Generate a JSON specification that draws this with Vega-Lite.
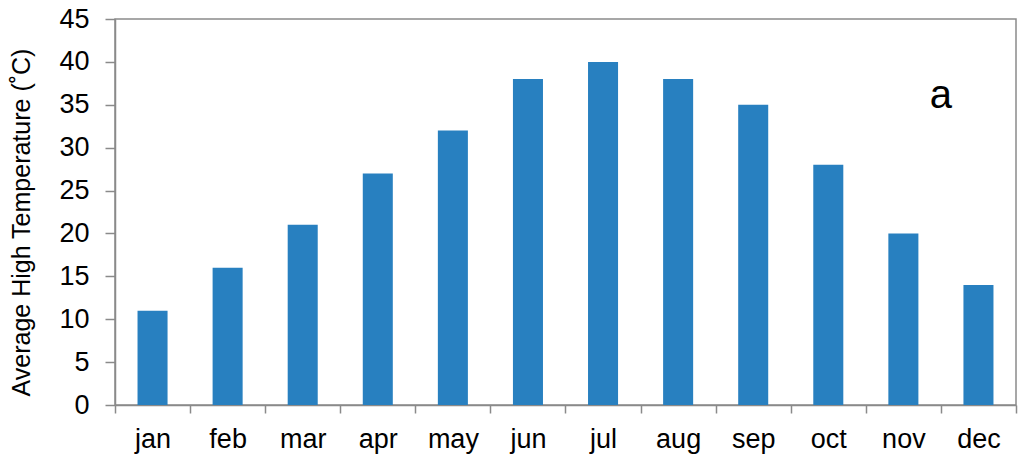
{
  "$schema": "https://vega.github.io/schema/vega-lite/v6.json",
  "autosize": "none",
  "width": 901,
  "height": 386,
  "padding": {"left": 115, "top": 19, "right": 8, "bottom": 58},
  "background": "white",
  "config": {
    "font": "Liberation Sans",
    "view": {"stroke": "#8a8a8a", "strokeWidth": 1.5}
  },
  "layer": [
    {
      "data": {
        "values": [
          {"month": "jan", "temp": 11},
          {"month": "feb", "temp": 16},
          {"month": "mar", "temp": 21},
          {"month": "apr", "temp": 27},
          {"month": "may", "temp": 32},
          {"month": "jun", "temp": 38},
          {"month": "jul", "temp": 40},
          {"month": "aug", "temp": 38},
          {"month": "sep", "temp": 35},
          {"month": "oct", "temp": 28},
          {"month": "nov", "temp": 20},
          {"month": "dec", "temp": 14}
        ]
      },
      "mark": {"type": "bar", "color": "#2880c0", "width": {"band": 0.4}},
      "encoding": {
        "x": {
          "field": "month", "type": "nominal",
          "scale": {"domain": ["jan","feb","mar","apr","may","jun","jul","aug","sep","oct","nov","dec"], "paddingInner": 0, "paddingOuter": 0},
          "axis": {
            "title": null, "labelAngle": 0, "tickBand": "extent",
            "labelFont": "Liberation Sans", "labelFontSize": 27, "labelColor": "black",
            "labelPadding": 13, "tickSize": 8, "tickColor": "#8a8a8a", "domainColor": "#8a8a8a",
            "domainWidth": 1.5, "tickWidth": 1.5
          }
        },
        "y": {
          "field": "temp", "type": "quantitative",
          "scale": {"domain": [0, 45], "nice": false},
          "axis": {
            "title": "Average High Temperature (˚C)", "values": [0,5,10,15,20,25,30,35,40,45],
            "grid": false, "labelFont": "Liberation Sans", "labelFontSize": 27, "labelColor": "black",
            "labelPadding": 16, "tickSize": 10, "tickColor": "#8a8a8a", "domainColor": "#8a8a8a",
            "domainWidth": 1.5, "tickWidth": 1.5,
            "titleFont": "Liberation Sans", "titleFontSize": 25, "titleFontWeight": "normal",
            "titleColor": "black", "titlePadding": 24, "titleY": 203
          }
        }
      }
    },
    {
      "data": {"values": [{"month": "dec", "temp": 36, "label": "a"}]},
      "mark": {"type": "text", "fontSize": 40, "fontWeight": "normal", "font": "Liberation Sans", "color": "black", "baseline": "middle", "align": "center"},
      "encoding": {
        "x": {"field": "month", "type": "nominal", "bandPosition": 0},
        "y": {"field": "temp", "type": "quantitative"},
        "text": {"field": "label"}
      }
    }
  ]
}
